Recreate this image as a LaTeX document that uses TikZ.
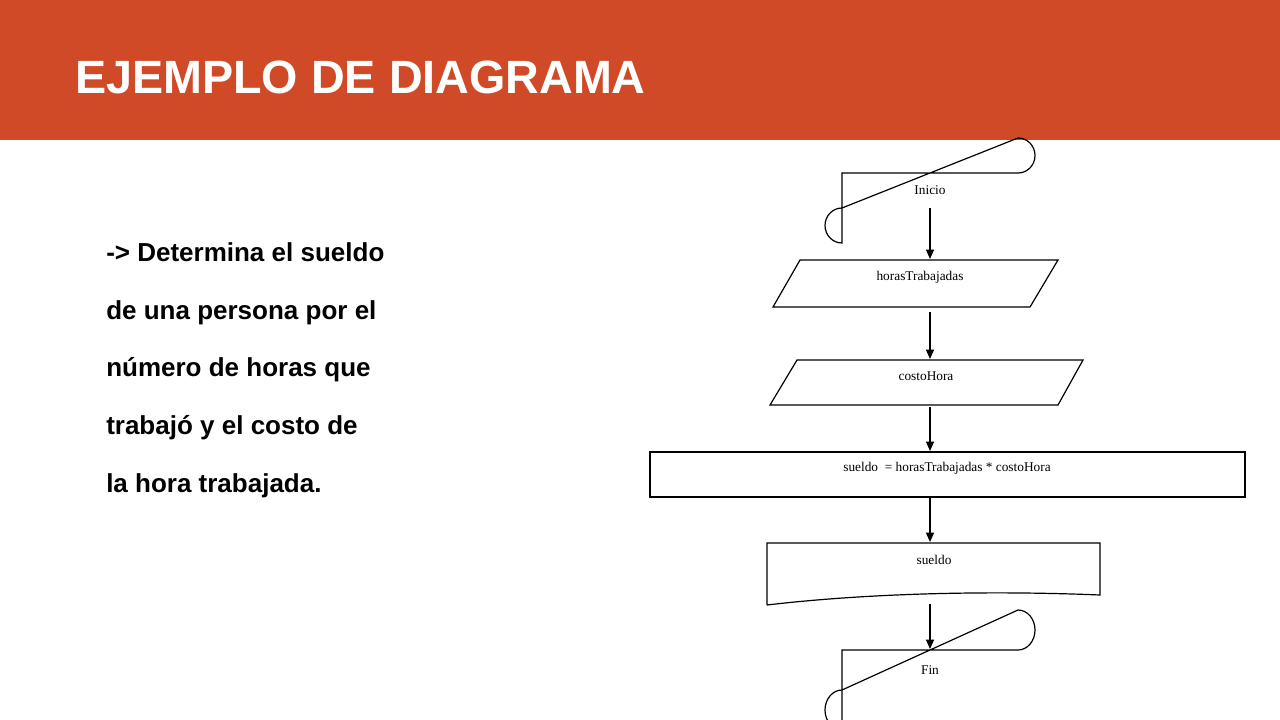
\documentclass[tikz,border=0pt]{standalone}
\usepackage{fontspec}
\setmainfont{Liberation Sans}
\newfontfamily\flowfont{Liberation Serif}
\usetikzlibrary{arrows.meta}
\definecolor{hdr}{HTML}{D14A28}
\begin{document}
\begin{tikzpicture}[x=0.75pt,y=-0.75pt,
  fl/.style={draw=black,line width=0.9pt},
  arr/.style={draw=black,line width=0.9pt,-{Triangle[length=7pt,width=6pt]}},
  lbl/.style={font=\flowfont\fontsize{10}{12}\selectfont,inner sep=0pt},
  body/.style={font=\bfseries\fontsize{19.5}{24}\selectfont,anchor=base west,inner sep=0pt}]
\useasboundingbox (0,0) rectangle (1280,720);
\fill[white] (0,0) rectangle (1280,720);
\fill[hdr] (0,0) rectangle (1280,140);
\node[anchor=base west,inner sep=0pt,text=white,font=\bfseries\fontsize{35}{40}\selectfont] (title) at (75,94) {EJEMPLO DE DIAGRAMA};
\node[body] (l1) at (106,261) {-> Determina el sueldo};
\node[body] (l2) at (106,319) {de una persona por el};
\node[body] (l3) at (106,376) {número de horas que};
\node[body] (l4) at (106,434) {trabajó y el costo de};
\node[body] (l5) at (106,492) {la hora trabajada.};
% flowchart
\draw[fl] (842,173) -- (1018,173) arc[start angle=90,end angle=-90,x radius=17,y radius=17.5] -- (842,208) arc[start angle=270,end angle=90,x radius=17,y radius=17.5] -- cycle;
\node[lbl] (inicio) at (930,190) {Inicio};
\coordinate (a1s) at (930,208); \coordinate (a1e) at (930,259);
\draw[fl] (800,260) -- (1058,260) -- (1030,307) -- (773,307) -- cycle;
\node[lbl] (horas) at (920,277) {horasTrabajadas};
\coordinate (a2s) at (930,312); \coordinate (a2e) at (930,359);
\draw[fl] (797,360) -- (1083,360) -- (1058,405) -- (770,405) -- cycle;
\node[lbl] (costo) at (926,376) {costoHora};
\coordinate (a3s) at (930,407); \coordinate (a3e) at (930,451);
\draw[fl] (650,452) rectangle (1245,497);
\node[lbl] (calc) at (947,468) {sueldo\ \ = horasTrabajadas * costoHora};
\coordinate (a4s) at (930,497); \coordinate (a4e) at (930,542);
\draw[fl] (767,605) -- (767,543) -- (1100,543) -- (1100,595) .. controls (980,590) and (860,594) .. (767,605);
\node[lbl] (out) at (934,560) {sueldo};
\coordinate (a5s) at (930,604); \coordinate (a5e) at (930,649);
\draw[fl] (842,650) -- (1018,650) arc[start angle=90,end angle=-90,x radius=17,y radius=20] -- (842,690) arc[start angle=270,end angle=90,x radius=17,y radius=20] -- cycle;
\node[lbl] (fin) at (930,670) {Fin};
\draw[arr] (a1s) -- (a1e);
\draw[arr] (a2s) -- (a2e);
\draw[arr] (a3s) -- (a3e);
\draw[arr] (a4s) -- (a4e);
\draw[arr] (a5s) -- (a5e);
\end{tikzpicture}
\end{document}
